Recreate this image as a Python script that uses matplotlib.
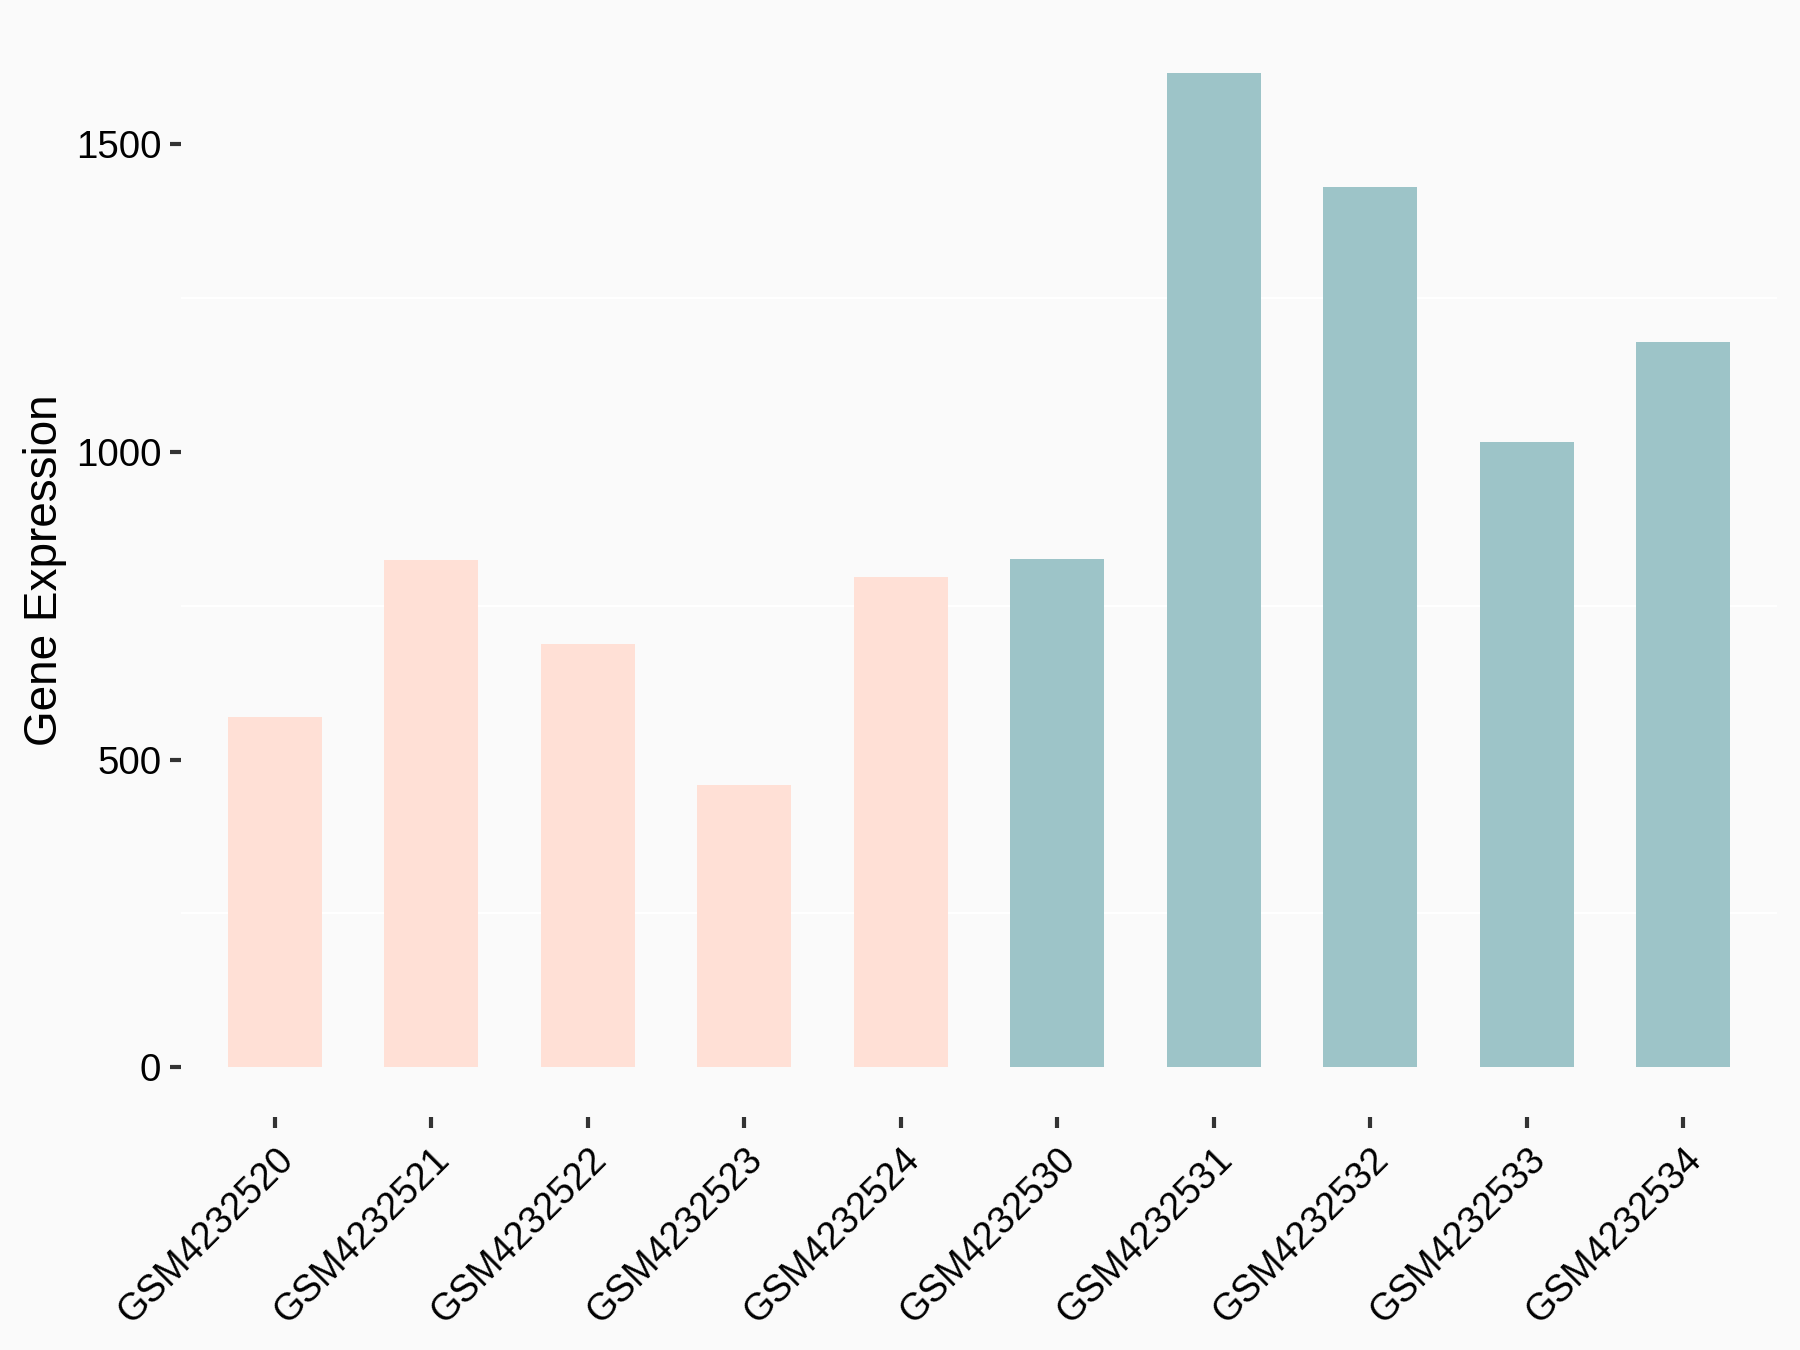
import matplotlib
matplotlib.use("Agg")
import matplotlib.pyplot as plt
import numpy as np

samples = ["GSM4232520", "GSM4232521", "GSM4232522", "GSM4232523", "GSM4232524",
           "GSM4232530", "GSM4232531", "GSM4232532", "GSM4232533", "GSM4232534"]
expression = [569, 824, 688, 459, 797, 826, 1616, 1431, 1016, 1178]
groups = ["A", "A", "A", "A", "A", "B", "B", "B", "B", "B"]
group_colors = {"A": "#FFE0D6", "B": "#9DC4C8"}
y_ticks = [0, 500, 1000, 1500]
minor_ticks = [250, 750, 1250]

plt.rcParams['font.family'] = ['Liberation Sans', 'DejaVu Sans']

bg = "#FAFAFA"
fig = plt.figure(figsize=(12, 9), dpi=150, facecolor=bg)
ax = fig.add_axes([181/1800, 1 - 1117/1350, (1777-181)/1800, (1117-23)/1350])
ax.set_facecolor(bg)

x = np.arange(len(samples))
ax.bar(x, expression, width=0.6, color=[group_colors[g] for g in groups], zorder=2)

ymax = max(expression)
ax.set_ylim(-0.05*ymax, 1.05*ymax)
ax.set_xlim(-0.6, len(samples) - 0.4)

ax.set_yticks(y_ticks)
ax.set_yticks(minor_ticks, minor=True)
ax.yaxis.grid(True, which='minor', color='white', linewidth=1.1, zorder=0)
ax.yaxis.grid(False, which='major')
ax.xaxis.grid(False)
ax.tick_params(axis='y', which='minor', length=0)
ax.set_axisbelow(True)

for s in ax.spines.values():
    s.set_visible(False)

ax.tick_params(axis='both', which='major', length=5.5, width=2, color='#333333',
               labelcolor='black')
ax.tick_params(axis='y', pad=4, labelsize=18.5)
ax.tick_params(axis='x', pad=6, labelsize=18)
ax.set_xticks(x)
ax.set_xticklabels(samples, rotation=45, ha='right', va='top', rotation_mode='anchor')

ax.set_ylabel("Gene Expression", fontsize=22, labelpad=4)

fig.savefig("out.png", dpi=150, facecolor=bg)
